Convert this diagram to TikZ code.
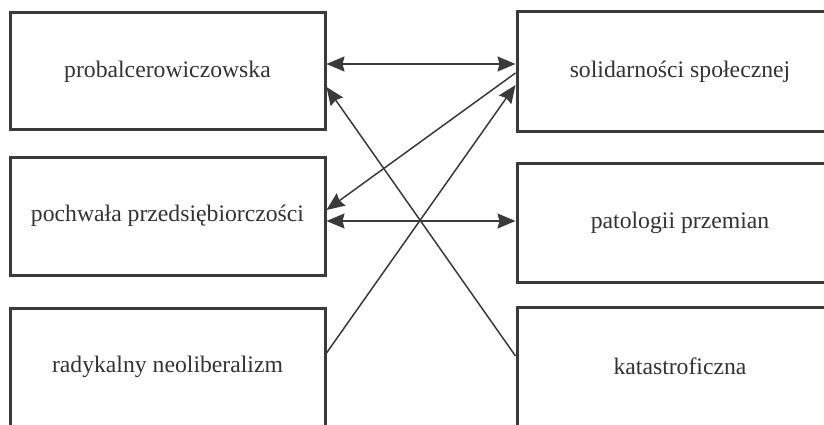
\documentclass[tikz,border=0pt]{standalone}
\usepackage{fontspec}
\setmainfont{Liberation Serif}
\usetikzlibrary{arrows.meta}
\definecolor{ink}{HTML}{3A3A3A}
\definecolor{txt}{HTML}{333333}
\tikzset{
  box/.style={draw=ink, line width=3pt, rectangle, inner sep=0pt,
    font=\fontsize{23.7}{28}\selectfont, text=txt},
  lbox/.style={box, minimum width=315pt, minimum height=118pt},
  rbox/.style={box, minimum width=326pt, minimum height=119pt},
  conn/.style={draw=ink, line width=1.5pt},
  tip/.style={-{Stealth[length=18pt,width=15pt,inset=2pt]}},
  tips/.style={{Stealth[length=18pt,width=15pt,inset=2pt]}-{Stealth[length=18pt,width=15pt,inset=2pt]}}
}
\begin{document}
\begin{tikzpicture}[x=1pt,y=-1pt]
\clip (0,0) rectangle (824,425);
\fill[white] (0,0) rectangle (824,425);
\node[lbox, minimum height=117pt] (prob) at (167.5,71.5) {probalcerowiczowska};
\node[rbox, minimum height=120pt] (sol) at (680,72) {solidarności społecznej};
\node[lbox] (poch) at (167.5,216) {pochwała przedsiębiorczości};
\node[rbox] (pat) at (680,222.5) {patologii przemian};
\node[lbox] (rad) at (167.5,367) {radykalny neoliberalizm};
\node[rbox] (kat) at (680,366.5) {katastroficzna};
\draw[conn,tips] ([yshift=8pt]sol.west) -- ([yshift=8pt]sol.west -| prob.east);
\draw[conn,tips] ([yshift=1.5pt]pat.west) -- ([yshift=1.5pt]pat.west -| poch.east);
\draw[conn,tip] ([yshift=-1pt]sol.west) -- ([yshift=6pt]poch.east);
\draw[conn,tip] ([yshift=14pt]rad.east) -- ([yshift=-13pt]sol.west);
\draw[conn,tip] ([yshift=10.5pt]kat.west) -- ([yshift=-15.5pt]prob.east);
\end{tikzpicture}
\end{document}
